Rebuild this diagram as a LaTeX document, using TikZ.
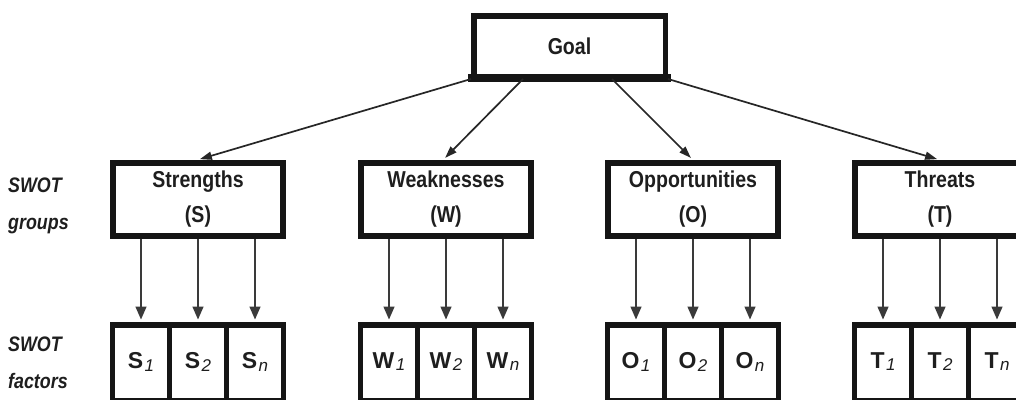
\documentclass[tikz,border=0pt]{standalone}
\usepackage{fontspec}
\setmainfont{Liberation Sans}[FakeStretch=0.85]
\newfontfamily\widefont{Liberation Sans}
\usetikzlibrary{arrows.meta}
\definecolor{textc}{HTML}{1E1E1E}
\definecolor{boxc}{HTML}{151515}
\definecolor{arrc}{HTML}{3A3A3A}
\newcommand{\fac}[2]{\raisebox{5pt}{#1\kern1.5pt\raisebox{-2.5pt}{\fontsize{17}{17}\selectfont\mdseries\itshape #2}}}
\begin{document}
\begin{tikzpicture}[x=1pt,y=-1pt,
  goalbox/.style={draw=boxc, line width=5.5pt, minimum width=191.5pt, minimum height=60.5pt,
    inner sep=0pt, text=textc, font=\bfseries\fontsize{23}{27}\selectfont},
  groupbox/.style={draw=boxc, line width=6pt, minimum width=170pt, minimum height=73pt,
    inner sep=0pt, align=center, text=textc, font=\bfseries\fontsize{23}{35}\selectfont},
  cellbox/.style={draw=boxc, line width=5.5pt, minimum width=57pt, minimum height=76pt,
    inner sep=0pt, text=textc, font=\widefont\bfseries\fontsize{23}{23}\selectfont},
  sidelabel/.style={inner sep=0pt, align=left, anchor=west, text=textc,
    font=\bfseries\itshape\fontsize{21}{37}\selectfont},
  facarrow/.style={draw=arrc, line width=1.4pt, -{Triangle[length=13pt,width=11pt]},
    shorten >=2.75pt},
  goalarrow/.style={draw=black!85, line width=1.7pt, -{Triangle[length=12pt,width=8pt]},
    shorten >=3pt}
]
\useasboundingbox (0,0) rectangle (1016,399);
\fill[white] (0,0) rectangle (1016,399);

% goal
\node[goalbox] (goal) at (569.5,46) {Goal};
\draw[boxc, line width=8pt] ([xshift=-2.75pt,yshift=1.25pt]goal.south west) -- ([xshift=2.75pt,yshift=1.25pt]goal.south east);

% groups
\node[groupbox] (S) at (198,199.5) {Strengths\\(S)};
\node[groupbox] (W) at (446,199.5) {Weaknesses\\(W)};
\node[groupbox] (O) at (693,199.5) {Opportunities\\(O)};
\node[groupbox] (T) at (940,199.5) {Threats\\(T)};

% factors
\node[cellbox] (S1) at (141,363) {\fac{S}{1}};
\node[cellbox] (S2) at (198,363) {\fac{S}{2}};
\node[cellbox] (Sn) at (255,363) {\fac{S}{n}};
\node[cellbox] (W1) at (389,363) {\fac{W}{1}};
\node[cellbox] (W2) at (446,363) {\fac{W}{2}};
\node[cellbox] (Wn) at (503,363) {\fac{W}{n}};
\node[cellbox] (O1) at (636,363) {\fac{O}{1}};
\node[cellbox] (O2) at (693,363) {\fac{O}{2}};
\node[cellbox] (On) at (750,363) {\fac{O}{n}};
\node[cellbox] (T1) at (883,363) {\fac{T}{1}};
\node[cellbox] (T2) at (940,363) {\fac{T}{2}};
\node[cellbox] (Tn) at (997,363) {\fac{T}{n}};

% side labels
\node[sidelabel] (lg) at (8,205.5) {SWOT\\groups};
\node[sidelabel] (lf) at (8,363) {SWOT\\factors};

% goal arrows
\draw[goalarrow] (goal.south west) -- ([xshift=-1pt]S.north);
\draw[goalarrow] ([xshift=-46.5pt]goal.south) -- ([xshift=-3pt]W.north);
\draw[goalarrow] ([xshift=42.5pt]goal.south) -- (O.north);
\draw[goalarrow] (goal.south east) -- (T.north);

% factor arrows
\foreach \g in {S,W,O,T}{
  \foreach \i in {1,2,n}{
    \draw[facarrow] (\g\i.north |- \g.south) -- (\g\i.north);
  }
}
\end{tikzpicture}
\end{document}
